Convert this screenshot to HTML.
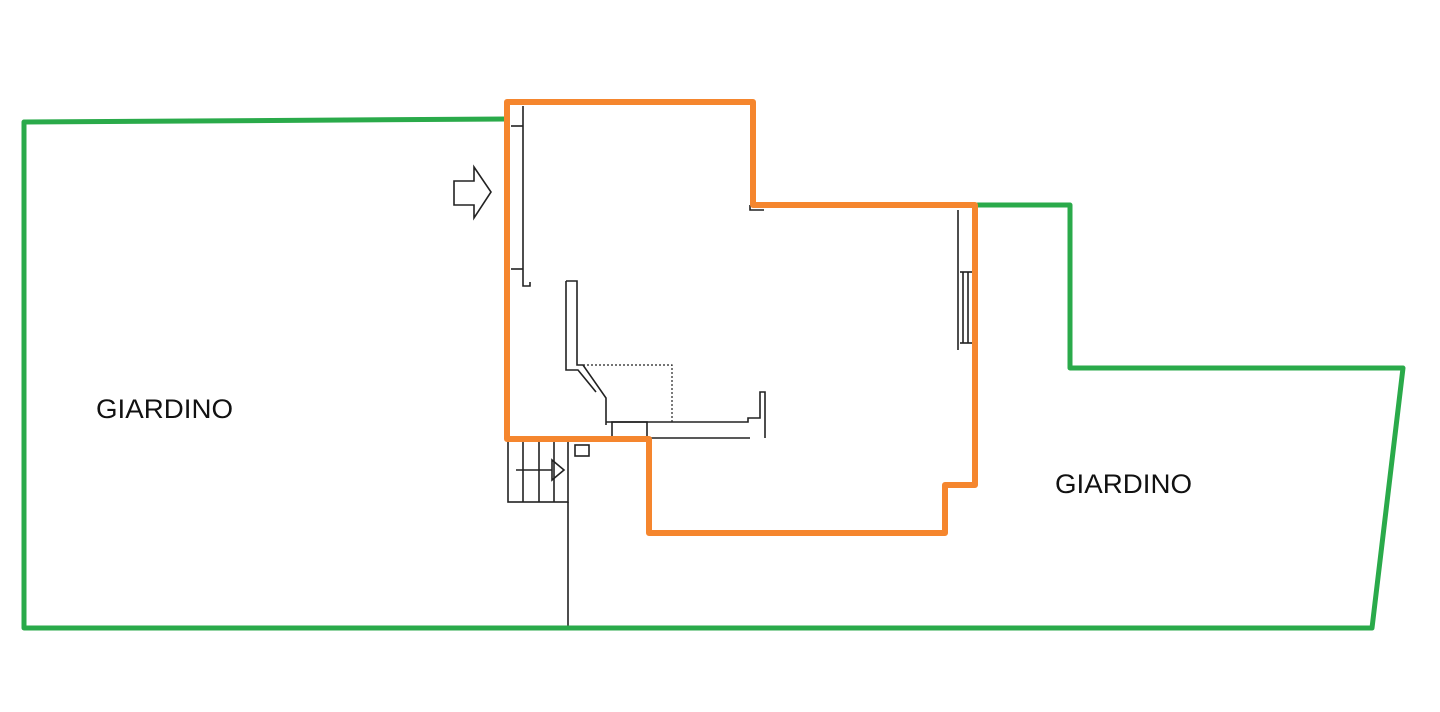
<!DOCTYPE html>
<html><head><meta charset="utf-8"><style>
html,body{margin:0;padding:0;background:#fff;}
svg{display:block}
</style></head><body>
<svg width="1440" height="712" viewBox="0 0 1440 712" xmlns="http://www.w3.org/2000/svg">
<rect width="1440" height="712" fill="#fff"/>
<g fill="none" stroke="#222" stroke-width="1.6">
  <line x1="523" y1="106" x2="523" y2="283"/>
  <line x1="511" y1="126" x2="523" y2="126"/>
  <line x1="511" y1="269" x2="523" y2="269"/>
  <polyline points="523,283 523,286 530,286 530,282"/>
  <polygon points="454,181 474,181 474,167 491,192 474,218 474,205 454,205"/>
  <polyline points="566,281 566,370 578,370 596,392"/>
  <polyline points="566,281 577,281 577,365 583,365 606,398 606,425"/>
  <polyline points="583,365 672,365 672,422" stroke-dasharray="2,2" stroke-width="1.2"/>
  <polyline points="606,422 748,422 748,418 760,418 760,392 765,392 765,438"/>
  <line x1="650" y1="438" x2="750" y2="438"/>
  <rect x="612" y="422" width="35" height="15"/>
  <rect x="508" y="440" width="60" height="62"/>
  <line x1="523" y1="440" x2="523" y2="502"/>
  <line x1="539" y1="440" x2="539" y2="502"/>
  <line x1="554" y1="440" x2="554" y2="502"/>
  <line x1="568" y1="502" x2="568" y2="628"/>
  <line x1="516" y1="470" x2="552" y2="470"/>
  <polygon points="552,460 564,470 552,480"/>
  <rect x="575" y="445" width="14" height="11"/>
  <line x1="958" y1="210" x2="958" y2="350"/>
  <line x1="963" y1="272" x2="963" y2="343"/>
  <line x1="968" y1="272" x2="968" y2="343"/>
  <line x1="960" y1="272" x2="972" y2="272"/>
  <line x1="960" y1="343" x2="972" y2="343"/>
  <polyline points="750,205 750,210 764,210"/>
</g>
<g fill="none" stroke="#2aaa4a" stroke-width="5" stroke-linejoin="round" stroke-linecap="round">
  <polyline points="507,119 24,122 24,628 1372,628 1403,368 1070,368 1070,205 978,205"/>
</g>
<polygon points="507,102 753,102 753,205 975,205 975,485 945,485 945,533 649,533 649,439 507,439" fill="none" stroke="#f5862e" stroke-width="6" stroke-linejoin="round"/>
<g font-family="'Liberation Sans', Arial, sans-serif" font-size="27" fill="#111">
  <text x="96" y="418" textLength="137" lengthAdjust="spacingAndGlyphs">GIARDINO</text>
  <text x="1055" y="493" textLength="137" lengthAdjust="spacingAndGlyphs">GIARDINO</text>
</g>
</svg>
</body></html>
